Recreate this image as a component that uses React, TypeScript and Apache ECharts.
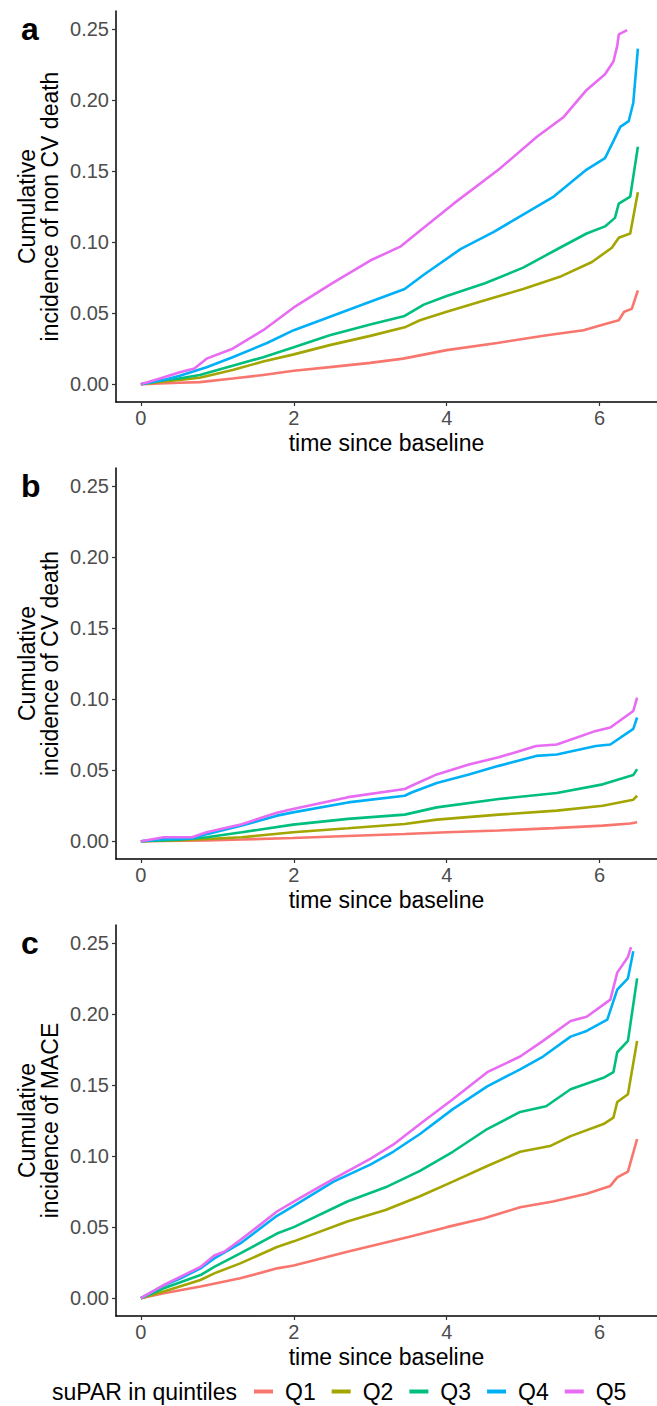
import React, { useEffect, useRef } from "react";
import * as echarts from "echarts";

const seriesNames = ["Q1", "Q2", "Q3", "Q4", "Q5"];
const colors = ["#F8766D", "#A3A500", "#00BF7D", "#00B0F6", "#E76BF3"];
const yTicks = [0, 0.05, 0.1, 0.15, 0.2, 0.25];
const xTicks = [0, 2, 4, 6];
const panelLetters = ["a", "b", "c"];
const yTitles = [
  "Cumulative\nincidence of non CV death",
  "Cumulative\nincidence of CV death",
  "Cumulative\nincidence of MACE",
];
const xTitle = "time since baseline";
const legendTitle = "suPAR in quintiles";

const aQ1 = [[0,0],[0.25,0.0005],[0.5,0.001],[0.77,0.0015],[1.2,0.004],[1.6,0.0065],[2,0.0095],[2.47,0.012],[3,0.015],[3.43,0.018],[4,0.024],[4.66,0.029],[5.31,0.0345],[5.79,0.038],[6.05,0.042],[6.25,0.045],[6.32,0.051],[6.42,0.053],[6.5,0.066]];
const aQ2 = [[0,0],[0.3,0.002],[0.5,0.003],[0.77,0.0045],[1.2,0.01],[1.6,0.016],[2,0.021],[2.47,0.0275],[3,0.034],[3.45,0.04],[3.65,0.045],[4,0.051],[4.5,0.059],[5,0.067],[5.5,0.076],[5.9,0.086],[6.16,0.096],[6.25,0.103],[6.4,0.106],[6.5,0.135]];
const aQ3 = [[0,0],[0.3,0.003],[0.5,0.004],[0.77,0.0065],[1.2,0.013],[1.6,0.019],[2,0.026],[2.47,0.0345],[3,0.042],[3.45,0.048],[3.7,0.056],[4,0.062],[4.5,0.071],[5,0.082],[5.48,0.096],[5.83,0.106],[6.07,0.111],[6.2,0.117],[6.25,0.127],[6.4,0.132],[6.5,0.167]];
const aQ4 = [[0,0],[0.3,0.003],[0.51,0.006],[0.86,0.012],[1.2,0.019],[1.65,0.029],[2,0.038],[2.5,0.048],[3,0.058],[3.45,0.067],[3.7,0.077],[4.18,0.095],[4.61,0.107],[4.96,0.118],[5.4,0.132],[5.83,0.151],[6.07,0.159],[6.18,0.171],[6.27,0.181],[6.38,0.185],[6.44,0.198],[6.5,0.236]];
const aQ5 = [[0,0],[0.25,0.004],[0.51,0.0085],[0.7,0.011],[0.86,0.018],[1.2,0.025],[1.6,0.038],[2,0.054],[2.5,0.071],[3,0.087],[3.4,0.097],[3.65,0.108],[4.09,0.127],[4.68,0.151],[5.18,0.174],[5.53,0.188],[5.83,0.207],[6.07,0.218],[6.18,0.227],[6.23,0.238],[6.25,0.246],[6.36,0.249]];

const bQ1 = [[0,0],[0.86,0.0005],[1.32,0.0012],[1.99,0.0023],[2.7,0.0037],[3.45,0.0051],[4.0,0.0063],[4.68,0.0075],[5.4,0.0092],[6.04,0.011],[6.4,0.0125],[6.49,0.0133]];
const bQ2 = [[0,0],[0.5,0.0008],[0.86,0.0016],[1.32,0.0028],[1.99,0.0063],[2.71,0.0091],[3.45,0.0121],[3.87,0.0152],[4.68,0.0187],[5.44,0.0215],[6.04,0.025],[6.44,0.0292],[6.49,0.032]];
const bQ3 = [[0,0],[0.5,0.001],[0.86,0.0028],[1.32,0.0063],[1.99,0.0117],[2.71,0.0157],[3.45,0.0187],[3.87,0.0238],[4.68,0.0297],[5.44,0.0339],[6.04,0.04],[6.44,0.0465],[6.49,0.0507]];
const bQ4 = [[0,0],[0.3,0.0015],[0.67,0.002],[0.86,0.005],[1.32,0.011],[1.78,0.018],[1.99,0.0203],[2.71,0.0273],[3.45,0.032],[3.54,0.0343],[3.87,0.041],[4.29,0.047],[4.68,0.053],[5.17,0.06],[5.44,0.061],[5.95,0.067],[6.14,0.068],[6.44,0.079],[6.49,0.087]];
const bQ5 = [[0,0],[0.3,0.0028],[0.67,0.0028],[0.86,0.0063],[1.32,0.012],[1.78,0.02],[1.99,0.0227],[2.71,0.031],[3.45,0.0367],[3.54,0.039],[3.87,0.047],[4.29,0.054],[4.68,0.059],[5.17,0.067],[5.44,0.068],[5.95,0.0776],[6.14,0.08],[6.44,0.0916],[6.49,0.101]];

const cQ1 = [[0,0],[0.3,0.0035],[0.78,0.0082],[1.3,0.014],[1.78,0.021],[2,0.023],[2.7,0.0327],[3.5,0.043],[4,0.05],[4.48,0.056],[4.96,0.064],[5.39,0.068],[5.83,0.0735],[6.14,0.079],[6.23,0.085],[6.37,0.089],[6.49,0.112]];
const cQ2 = [[0,0],[0.3,0.0047],[0.78,0.0128],[0.96,0.0175],[1.3,0.0245],[1.78,0.036],[2,0.04],[2.7,0.054],[3.2,0.062],[3.65,0.0717],[4.08,0.082],[4.53,0.093],[4.96,0.103],[5.35,0.107],[5.62,0.114],[6.05,0.1225],[6.18,0.127],[6.23,0.138],[6.37,0.1435],[6.49,0.181]];
const cQ3 = [[0,0],[0.3,0.007],[0.78,0.0163],[0.96,0.022],[1.3,0.0315],[1.78,0.0455],[2,0.05],[2.7,0.068],[3.2,0.078],[3.65,0.0896],[4.08,0.103],[4.53,0.119],[4.96,0.131],[5.3,0.135],[5.62,0.147],[6.05,0.155],[6.18,0.159],[6.23,0.173],[6.37,0.181],[6.49,0.225]];
const cQ4 = [[0,0],[0.3,0.009],[0.52,0.014],[0.78,0.021],[0.96,0.028],[1.3,0.0385],[1.78,0.058],[2,0.065],[2.52,0.082],[3,0.094],[3.3,0.103],[3.65,0.1155],[4.08,0.133],[4.53,0.149],[4.96,0.161],[5.26,0.17],[5.62,0.184],[5.83,0.188],[6.1,0.196],[6.23,0.217],[6.37,0.225],[6.44,0.244]];
const cQ5 = [[0,0],[0.3,0.0093],[0.52,0.0152],[0.78,0.022],[0.96,0.03],[1.09,0.0327],[1.3,0.041],[1.52,0.05],[1.78,0.061],[2,0.068],[2.26,0.076],[2.52,0.084],[3,0.098],[3.3,0.108],[3.65,0.1225],[4.08,0.14],[4.53,0.159],[4.96,0.17],[5.26,0.181],[5.62,0.195],[5.83,0.198],[6.14,0.21],[6.23,0.229],[6.37,0.24],[6.41,0.247]];

const panels = [
  [aQ1, aQ2, aQ3, aQ4, aQ5],
  [bQ1, bQ2, bQ3, bQ4, bQ5],
  [cQ1, cQ2, cQ3, cQ4, cQ5],
];

const FONT = "'Liberation Sans', Arial, Helvetica, sans-serif";
const gridTops = [11, 468, 925];
const gridHeight = 391;
const gridLeft = 116;
const gridWidth = 541;

export default function App() {
  const ref = useRef<HTMLDivElement>(null);
  useEffect(() => {
    if (!ref.current) return;
    const chart = echarts.init(ref.current, null, { renderer: "svg" });
    const grids = gridTops.map((top) => ({ left: gridLeft, top, width: gridWidth, height: gridHeight }));
    const xAxes = gridTops.map((_, i) => ({
      type: "value",
      gridIndex: i,
      min: -0.325,
      max: 6.75,
      splitLine: { show: false },
      axisLine: { show: true, onZero: false, lineStyle: { color: "#000", width: 1.5 } },
      axisTick: { show: true, customValues: xTicks, length: 4, lineStyle: { color: "#333", width: 1.2 } },
      axisLabel: { customValues: xTicks, fontSize: 20, color: "#4D4D4D", fontFamily: FONT, margin: 6, formatter: (v: number) => String(v) },
      name: xTitle,
      nameLocation: "middle",
      nameGap: 29,
      nameTextStyle: { fontSize: 23, color: "#000", fontFamily: FONT, verticalAlign: "top" },
    }));
    const yAxes = gridTops.map((_, i) => ({
      type: "value",
      gridIndex: i,
      min: -0.0125,
      max: 0.2625,
      splitLine: { show: false },
      axisLine: { show: true, onZero: false, lineStyle: { color: "#000", width: 1.5 } },
      axisTick: { show: true, customValues: yTicks, length: 4, lineStyle: { color: "#333", width: 1.2 } },
      axisLabel: { customValues: yTicks, fontSize: 20, color: "#4D4D4D", fontFamily: FONT, margin: 7, formatter: (v: number) => v.toFixed(2) },
    }));
    const series: any[] = [];
    panels.forEach((p, pi) => {
      p.forEach((data, si) => {
        series.push({
          type: "line",
          name: seriesNames[si],
          xAxisIndex: pi,
          yAxisIndex: pi,
          data,
          showSymbol: false,
          symbol: "none",
          lineStyle: { color: colors[si], width: 2.6 },
          itemStyle: { color: colors[si] },
          z: 2 + si,
        });
      });
    });
    const graphics: any[] = [];
    gridTops.forEach((top, i) => {
      graphics.push({
        type: "text",
        x: 21,
        y: top + 18,
        style: { text: panelLetters[i], font: `bold 32px ${FONT}`, fill: "#000", verticalAlign: "middle", align: "left" },
      });
      graphics.push({
        type: "text",
        x: 38,
        y: top + gridHeight / 2,
        rotation: Math.PI / 2,
        style: {
          text: yTitles[i],
          font: `23px ${FONT}`,
          fill: "#000",
          align: "center",
          verticalAlign: "middle",
          lineHeight: 23,
        },
      });
    });
    graphics.push({
      type: "text",
      x: 52,
      y: 1392,
      style: { text: legendTitle, font: `23px ${FONT}`, fill: "#000", align: "left", verticalAlign: "middle" },
    });
    chart.setOption({
      animation: false,
      backgroundColor: "#fff",
      grid: grids,
      xAxis: xAxes,
      yAxis: yAxes,
      series,
      graphic: graphics,
      legend: {
        data: seriesNames.map((n, i) => ({ name: n, itemStyle: { color: colors[i] } })),
        left: 254,
        top: 1380,
        orient: "horizontal",
        icon: "rect",
        itemWidth: 19,
        itemHeight: 4,
        itemGap: 16,
        padding: 0,
        textStyle: { fontSize: 23, color: "#000", fontFamily: FONT, padding: [0, 0, 0, 7] },
      },
    });
    return () => chart.dispose();
  }, []);
  return <div ref={ref} style={{ position: "absolute", left: 0, top: 0, width: 657, height: 1406 }} />;
}
